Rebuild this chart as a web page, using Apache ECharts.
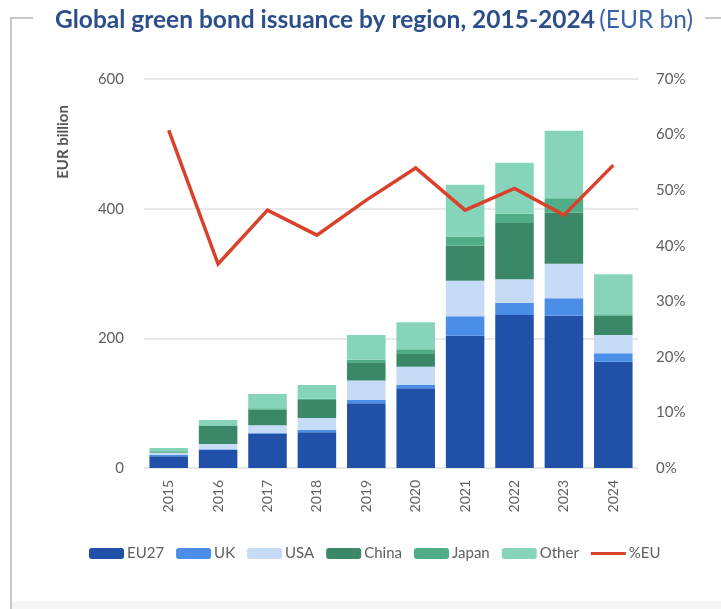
<!DOCTYPE html>
<html>
<head>
<meta charset="utf-8">
<script src="https://cdn.jsdelivr.net/npm/echarts@6/dist/echarts.min.js"></script>
<style>
  html, body { margin: 0; padding: 0; background: #ffffff; }
  #chart { width: 721px; height: 609px; }
</style>
</head>
<body>
<div id="chart"></div>
<script>
// Issuance by region, EUR billion
const years = ['2015', '2016', '2017', '2018', '2019', '2020', '2021', '2022', '2023', '2024'];
const eu27  = [18, 28, 53, 55, 100, 123, 204, 236, 235, 164];
const uk    = [2, 1, 1, 4, 5, 5, 30, 19, 27, 13];
const usa   = [3, 8, 12, 18, 30, 28, 55, 36, 53, 28];
const china = [1, 28, 24, 28, 27, 20, 54, 87, 79, 30];
const japan = [2, 1, 2, 2, 5, 7, 14, 14, 22, 2];
const other = [5, 8, 22, 21, 38, 42, 80, 79, 104, 62];
// EU share, percent (right axis)
const pctEU = [60.8, 36.7, 46.4, 41.9, 48.2, 54.0, 46.4, 50.3, 45.5, 54.5];

const leftTicks = [0, 200, 400, 600];
const rightTicks = [0, 10, 20, 30, 40, 50, 60, 70];

const textFont = 'Lato';
const labelGrey = '#5f5f5f';
const lineRed = '#d9412b';

const stackSeries = [
  { name: 'EU27',  data: eu27,  color: '#2150a8' },
  { name: 'UK',    data: uk,    color: '#4b8ee8' },
  { name: 'USA',   data: usa,   color: '#c6dbf5' },
  { name: 'China', data: china, color: '#3a8868' },
  { name: 'Japan', data: japan, color: '#4fae88' },
  { name: 'Other', data: other, color: '#86d5bb' }
].map(s => ({
  name: s.name,
  type: 'bar',
  stack: 'total',
  data: s.data,
  barCategoryGap: '22%',
  itemStyle: { color: s.color },
  emphasis: { disabled: true }
}));

const chart = echarts.init(document.getElementById('chart'), null, { renderer: 'canvas' });

chart.setOption({
  animation: false,
  backgroundColor: '#ffffff',
  textStyle: { fontFamily: textFont },
  title: {
    left: 50,
    top: 3,
    text: '{b|Global green bond issuance by region, 2015-2024} {n|(EUR bn)}',
    textStyle: {
      rich: {
        b: { fontFamily: textFont, fontWeight: 'bold', fontSize: 24.5, color: '#2c4f8c' },
        n: { fontFamily: textFont, fontWeight: 'normal', fontSize: 24.5, color: '#3a63a8' }
      }
    }
  },
  graphic: [
    // frame fragments around the panel
    { type: 'polyline', shape: { points: [[11, 609], [11, 18], [33, 18]] },
      style: { stroke: '#c8c8c8', lineWidth: 2, fill: null }, silent: true },
    { type: 'line', shape: { x1: 705, y1: 18, x2: 721, y2: 18 },
      style: { stroke: '#c8c8c8', lineWidth: 2 }, silent: true },
    { type: 'rect', shape: { x: 12, y: 601, width: 709, height: 8 },
      style: { fill: '#f6f6f6' }, silent: true },
    // left axis title
    { type: 'text', x: 63, y: 142, rotation: Math.PI / 2,
      style: { text: 'EUR billion', fontFamily: textFont, fontSize: 15, fontWeight: 'bold',
        fill: '#555555', align: 'center', verticalAlign: 'middle' }, silent: true }
  ],
  legend: {
    left: 84,
    top: 541,
    itemWidth: 35,
    itemHeight: 11,
    itemGap: 12,
    textStyle: { fontFamily: textFont, fontSize: 15, color: labelGrey, padding: [0, 0, 0, -2] },
    data: ['EU27', 'UK', 'USA', 'China', 'Japan', 'Other',
      { name: '%EU', icon: 'path://M0,0 L35,0 L35,3 L0,3 Z', itemStyle: { color: lineRed } }]
  },
  grid: { left: 144, right: 83, top: 79, bottom: 141, containLabel: false },
  xAxis: {
    type: 'category',
    data: years,
    axisLine: { show: false },
    axisTick: { show: false },
    axisLabel: { rotate: 90, fontSize: 14, color: labelGrey, margin: 12, fontFamily: textFont }
  },
  yAxis: [
    {
      type: 'value',
      min: leftTicks[0],
      max: leftTicks[leftTicks.length - 1],
      interval: 200,
      axisLine: { show: false },
      axisTick: { show: false },
      axisLabel: { fontSize: 15, color: labelGrey, margin: 20, fontFamily: textFont },
      splitLine: { lineStyle: { color: '#e8e8e8', width: 2 } }
    },
    {
      type: 'value',
      min: rightTicks[0],
      max: rightTicks[rightTicks.length - 1],
      interval: 10,
      position: 'right',
      axisLine: { show: false },
      axisTick: { show: false },
      axisLabel: { fontSize: 15, color: labelGrey, margin: 18, formatter: '{value}%', fontFamily: textFont },
      splitLine: { show: false }
    }
  ],
  series: stackSeries.concat([{
    name: '%EU',
    type: 'line',
    yAxisIndex: 1,
    data: pctEU,
    symbol: 'none',
    lineStyle: { color: lineRed, width: 3.5, join: 'miter' },
    itemStyle: { color: lineRed },
    emphasis: { disabled: true },
    z: 5
  }])
});
</script>
</body>
</html>
